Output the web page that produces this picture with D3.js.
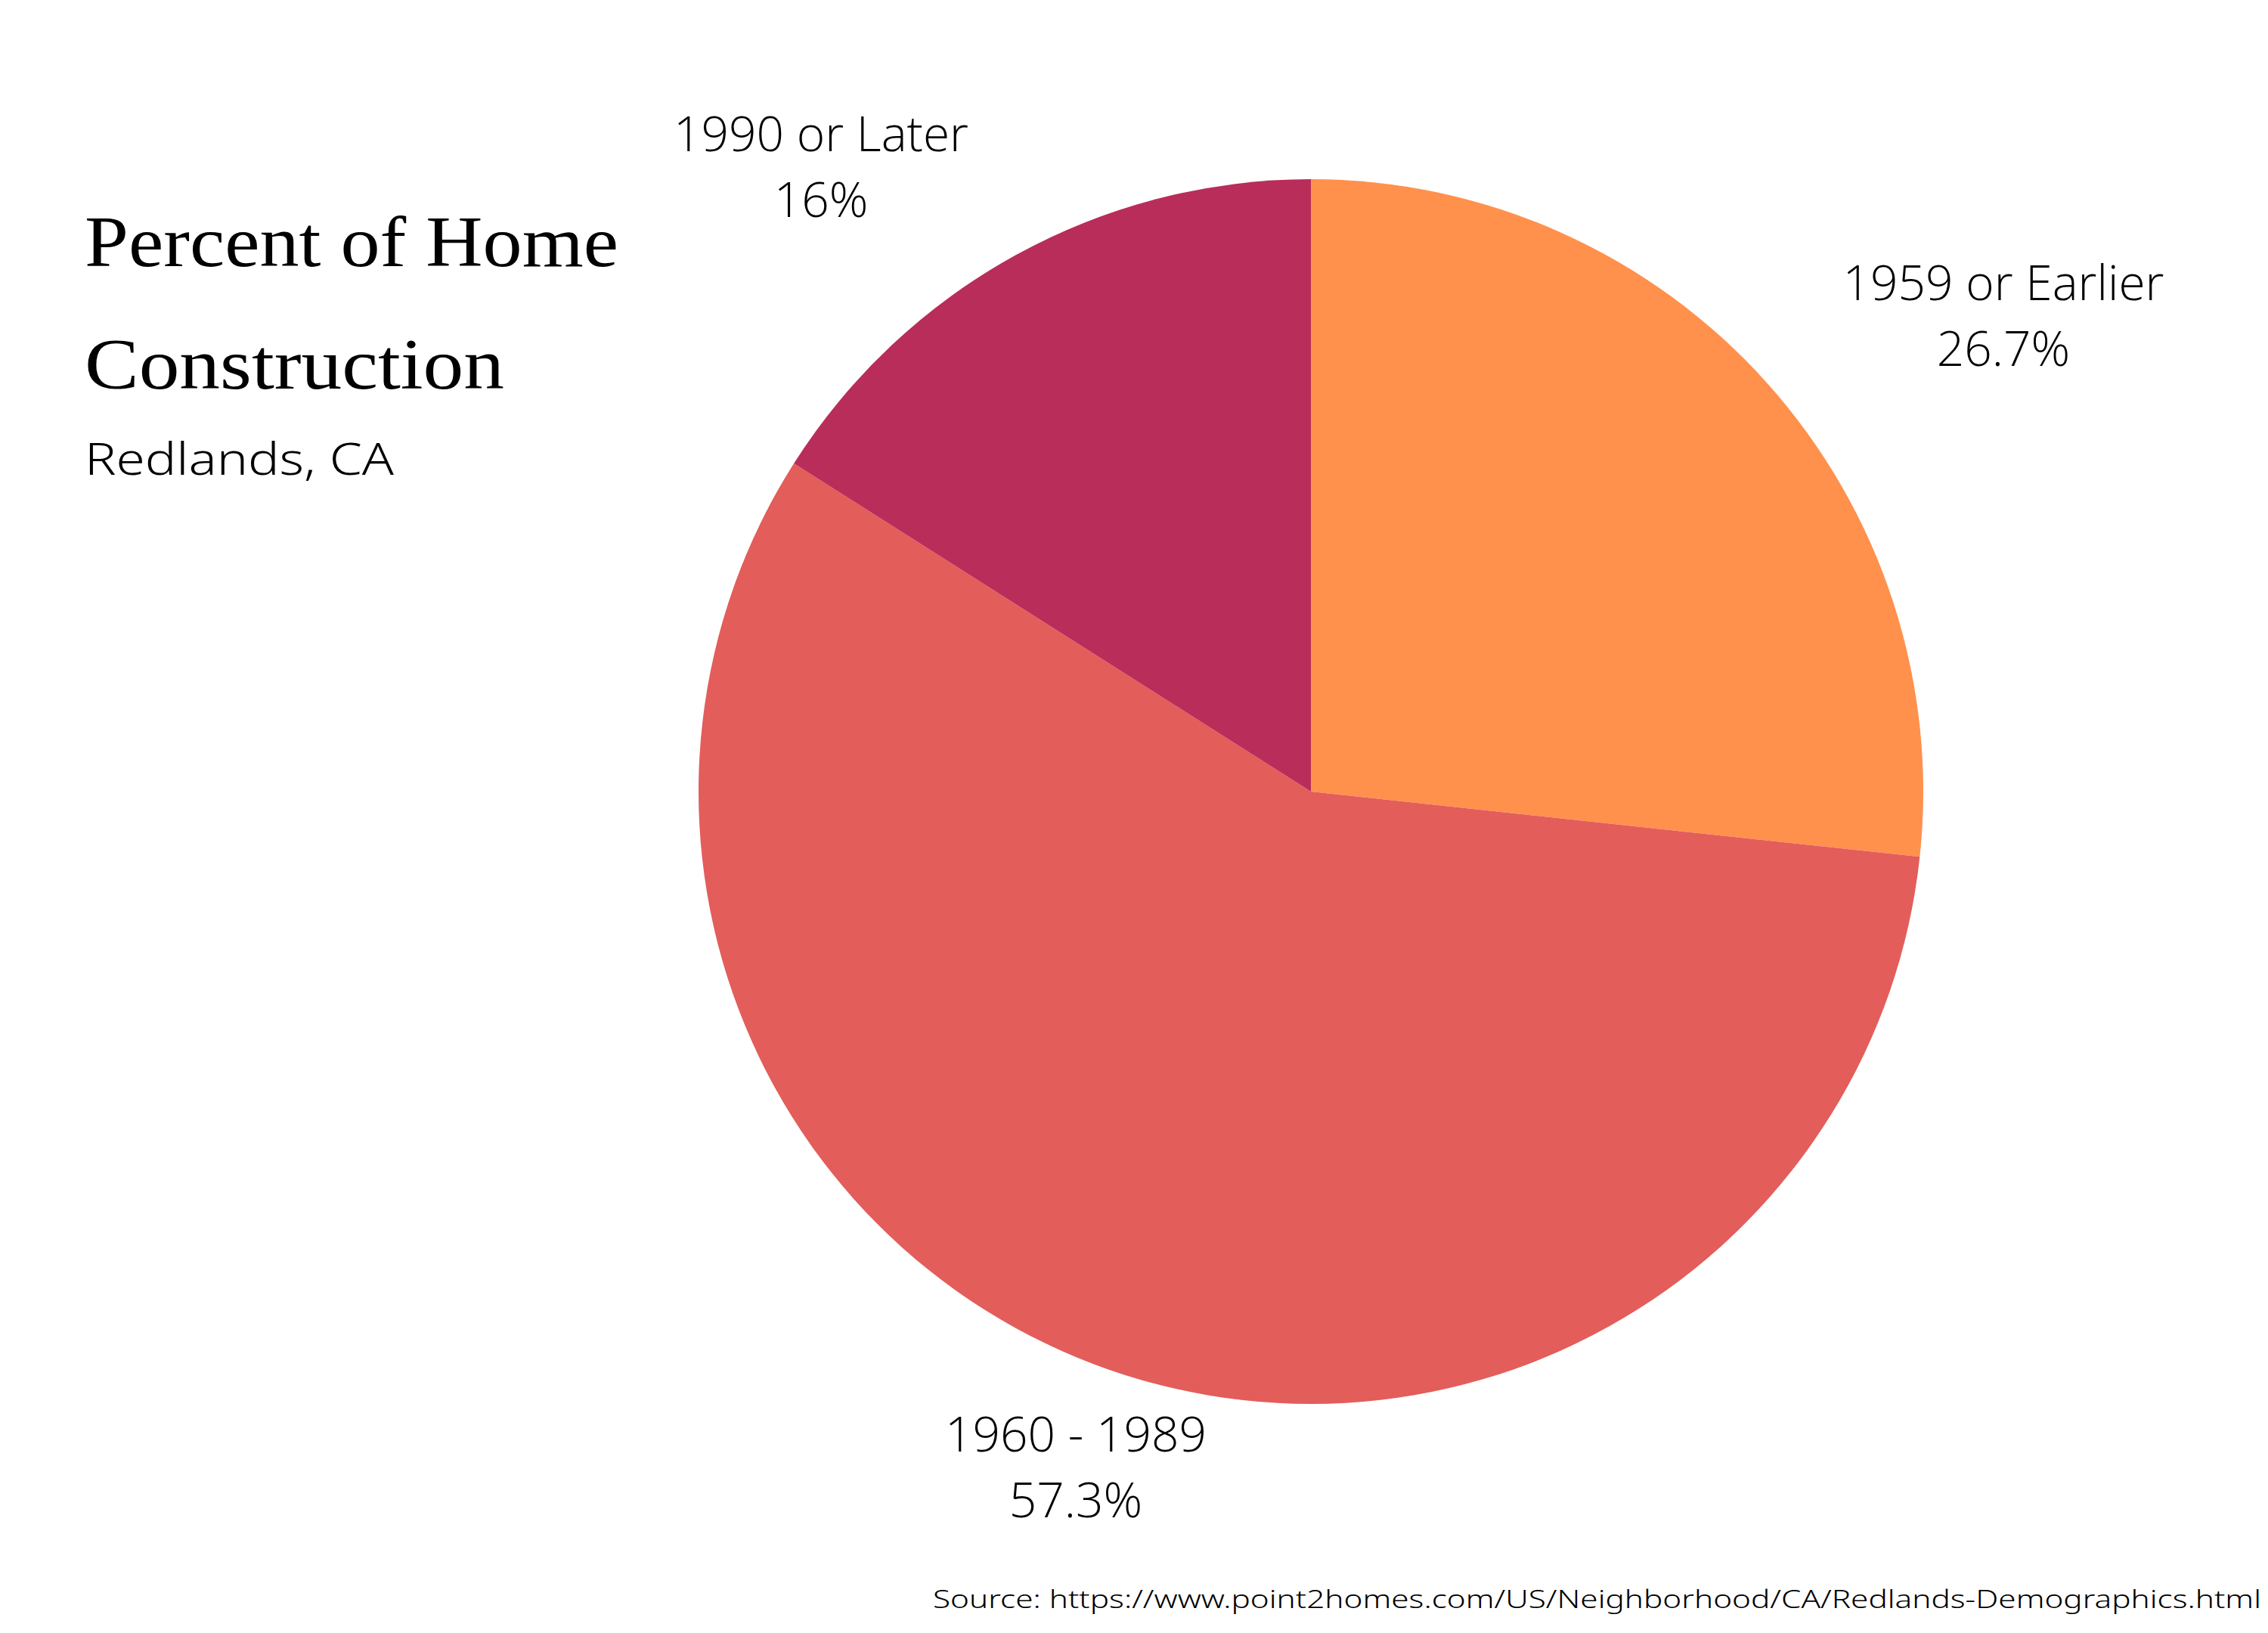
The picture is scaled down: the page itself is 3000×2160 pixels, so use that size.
<!DOCTYPE html>
<html>
<head>
<meta charset="utf-8">
<script src="https://cdn.jsdelivr.net/npm/d3@7"></script>
<style>
  html, body { margin: 0; padding: 0; background: #ffffff; }
  svg { display: block; }
</style>
</head>
<body>
<svg id="chart" width="3000" height="2160"></svg>
<script>
const categories = ["1959 or Earlier", "1960 - 1989", "1990 or Later"];
const values = [26.7, 57.3, 16];
const valueLabels = ["26.7%", "57.3%", "16%"];
const colors = ["#FF914D", "#E35D5A", "#B92D5A"];
// label anchor positions (center x, first baseline y)
const labelPos = [[2650, 397], [1423, 1920], [1086, 200]];

const svg = d3.select("#chart");
const W = 3000, H = 2160;
svg.append("rect").attr("width", W).attr("height", H).attr("fill", "#ffffff");

const cx = 1734, cy = 1047, R = 810;

const data = categories.map((c, i) => ({ cat: c, value: values[i], label: valueLabels[i], color: colors[i], pos: labelPos[i] }));

const pie = d3.pie().value(d => d.value).sort(null);
const arc = d3.arc().innerRadius(0).outerRadius(R);

const g = svg.append("g").attr("transform", `translate(${cx},${cy})`);
g.selectAll("path").data(pie(data)).join("path")
  .attr("d", arc)
  .attr("fill", d => d.data.color);

// labels
const lab = svg.append("g")
  .attr("font-family", "'Open Sans', sans-serif")
  .attr("font-weight", 300)
  .attr("font-size", 64)
  .attr("fill", "#000")
  .attr("text-anchor", "middle");
data.forEach(d => {
  lab.append("text").attr("x", d.pos[0]).attr("y", d.pos[1]).text(d.cat);
  lab.append("text").attr("x", d.pos[0]).attr("y", d.pos[1] + 87).text(d.label);
});

// title
const titleLines = ["Percent of Home", "Construction"];
const titleY = [352, 514];
const titleW = [706, 555];
titleLines.forEach((t, i) => {
  svg.append("text")
    .attr("x", 112).attr("y", titleY[i])
    .attr("font-family", "'Liberation Serif', 'DejaVu Serif', serif")
    .attr("font-size", 96)
    .attr("textLength", titleW[i])
    .attr("lengthAdjust", "spacingAndGlyphs")
    .attr("fill", "#000")
    .text(t);
});

svg.append("text")
  .attr("x", 112).attr("y", 628)
  .attr("font-family", "'Noto Sans', sans-serif")
  .attr("font-weight", 300)
  .attr("font-size", 58)
  .attr("textLength", 409)
  .attr("lengthAdjust", "spacingAndGlyphs")
  .attr("fill", "#000")
  .text("Redlands, CA");

svg.append("text")
  .attr("x", 1234).attr("y", 2127)
  .attr("font-family", "'Noto Sans', sans-serif")
  .attr("font-weight", 300)
  .attr("font-size", 33)
  .attr("textLength", 1757)
  .attr("lengthAdjust", "spacingAndGlyphs")
  .attr("fill", "#000")
  .text("Source: https://www.point2homes.com/US/Neighborhood/CA/Redlands-Demographics.html");
</script>
</body>
</html>
